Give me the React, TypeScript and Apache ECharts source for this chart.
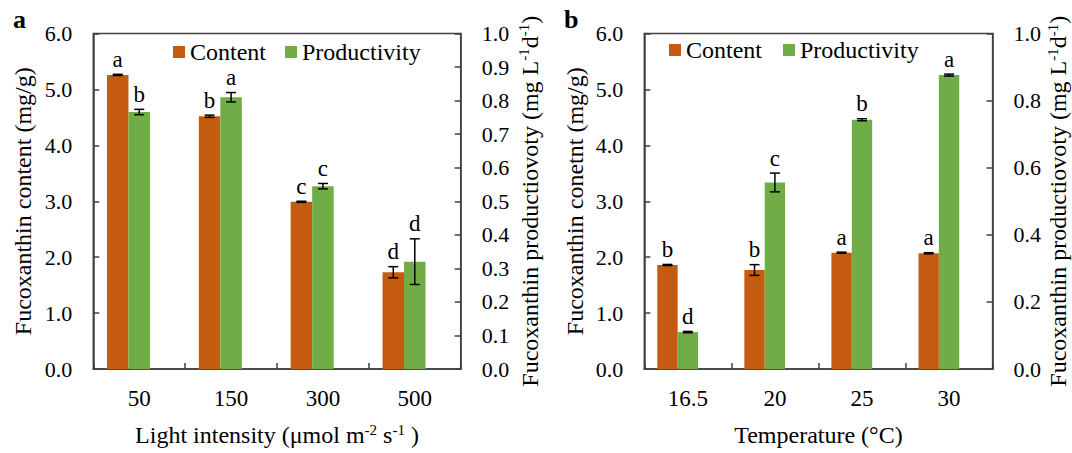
import React, { useEffect, useRef } from "react";
import * as echarts from "echarts";

// ---------- Data ----------
const categoriesA = ["50", "150", "300", "500"];
const contentA = [5.26, 4.52, 2.99, 1.73];
const contentErrA = [0.01, 0.02, 0.01, 0.1];
const productivityA = [0.766, 0.81, 0.545, 0.32];
const productivityErrA = [0.008, 0.014, 0.008, 0.068];
const contentLettersA = ["a", "b", "c", "d"];
const productivityLettersA = ["b", "a", "c", "d"];

const categoriesB = ["16.5", "20", "25", "30"];
const contentB = [1.86, 1.77, 2.08, 2.07];
const contentErrB = [0.01, 0.096, 0.01, 0.01];
const productivityB = [0.11, 0.556, 0.743, 0.876];
const productivityErrB = [0.002, 0.028, 0.003, 0.003];
const contentLettersB = ["b", "b", "a", "a"];
const productivityLettersB = ["d", "c", "b", "a"];

const leftTicks = { min: 0, max: 6, interval: 1 };
const rightTicksA = { min: 0, max: 1, interval: 0.1 };
const rightTicksB = { min: 0, max: 1, interval: 0.2 };

// ---------- Styles ----------
const FONT = "Liberation Serif";
const ORANGE = "#C55A11";
const GREEN = "#70AD47";
const AXIS = "#404040";
const BAR_FRAC = 0.234;

function errRender(offsetFactor: number, letters: string[]) {
  return (params: any, api: any) => {
    const i = api.value(0);
    const v = api.value(1);
    const e = api.value(2);
    const band = api.size([1, 0])[0];
    const off = offsetFactor * band * BAR_FRAC;
    const top = api.coord([i, v + e]);
    const bot = api.coord([i, v - e]);
    const x = top[0] + off;
    const cap = 5;
    const st = { stroke: "#000", lineWidth: 1.5 };
    return {
      type: "group",
      children: [
        { type: "line", shape: { x1: x, y1: top[1], x2: x, y2: bot[1] }, style: st },
        { type: "line", shape: { x1: x - cap, y1: top[1], x2: x + cap, y2: top[1] }, style: st },
        { type: "line", shape: { x1: x - cap, y1: bot[1], x2: x + cap, y2: bot[1] }, style: st },
        {
          type: "text",
          x: x,
          y: top[1] - 5,
          style: {
            text: letters[params.dataIndex],
            fontFamily: FONT,
            fontSize: 23,
            lineHeight: 20,
            fill: "#000",
            align: "center",
            verticalAlign: "bottom",
          },
        },
      ],
    };
  };
}

const richStyles = {
  n: { fontSize: 24, lineHeight: 26, fontFamily: FONT, color: "#000" },
  sup: { fontSize: 15, lineHeight: 15, verticalAlign: "top", fontFamily: FONT, color: "#000" },
};

function xAxisCfg(grid: number, cats: string[], name: string, gap: number) {
  return {
    type: "category",
    gridIndex: grid,
    data: cats,
    axisLine: { show: true, lineStyle: { color: AXIS, width: 1.5 } },
    axisTick: { show: true, inside: true, length: 6, lineStyle: { color: AXIS, width: 1.5 } },
    axisLabel: { fontFamily: FONT, fontSize: 23, color: "#000", margin: 18 },
    name,
    nameLocation: "middle",
    nameGap: gap,
    nameTextStyle: { fontFamily: FONT, fontSize: 24, color: "#000", lineHeight: 26, rich: richStyles },
  };
}

function yAxisCfg(
  grid: number,
  pos: "left" | "right",
  t: { min: number; max: number; interval: number },
  name: string,
  gap: number
) {
  return {
    type: "value",
    gridIndex: grid,
    position: pos,
    min: t.min,
    max: t.max,
    interval: t.interval,
    splitLine: { show: false },
    axisLine: { show: true, lineStyle: { color: AXIS, width: 1.5 } },
    axisTick: { show: true, inside: true, length: 6, lineStyle: { color: AXIS, width: 1.5 } },
    axisLabel: {
      fontFamily: FONT,
      fontSize: 22,
      color: "#000",
      margin: 21,
      formatter: (v: number) => v.toFixed(1),
    },
    name,
    nameLocation: "middle",
    nameGap: gap,
    nameTextStyle: { fontFamily: FONT, fontSize: 24, color: "#000", lineHeight: 26, rich: richStyles },
  };
}

function barSeries(name: string, xi: number, yi: number, data: (number | null)[], color: string) {
  return {
    type: "bar",
    name,
    xAxisIndex: xi,
    yAxisIndex: yi,
    data,
    barWidth: `${BAR_FRAC * 100}%`,
    barGap: "0%",
    itemStyle: { color },
    z: 2,
  };
}

function errSeries(
  xi: number,
  yi: number,
  vals: number[],
  errs: number[],
  letters: string[],
  offsetFactor: number
) {
  return {
    type: "custom",
    xAxisIndex: xi,
    yAxisIndex: yi,
    data: vals.map((v, i) => [i, v, errs[i]]),
    encode: { x: 0, y: 1 },
    renderItem: errRender(offsetFactor, letters),
    clip: false,
    z: 5,
  };
}

function legendCfg(left: number, top: number, gap: number) {
  return {
    data: ["Content", "Productivity"],
    left,
    top,
    padding: 0,
    icon: "rect",
    itemWidth: 12,
    itemHeight: 12,
    itemGap: gap,
    selectedMode: false,
    textStyle: { fontFamily: FONT, fontSize: 24, color: "#000", lineHeight: 20 },
  };
}

export default function App() {
  const ref = useRef<HTMLDivElement>(null);

  useEffect(() => {
    if (!ref.current) return;
    const chart = echarts.init(ref.current, undefined, { renderer: "svg" });
    const option: any = {
      animation: false,
      backgroundColor: "#fff",
      grid: [
        { left: 93.3, top: 33.5, width: 367.4, height: 345.5, show: true, borderColor: AXIS, borderWidth: 1.5, containLabel: false },
        { left: 644.3, top: 33.5, width: 351.7, height: 343.8, show: true, borderColor: AXIS, borderWidth: 1.5, containLabel: false },
      ],
      legend: [legendCfg(173, 40, 19), legendCfg(669, 38, 21)],
      xAxis: [
        xAxisCfg(0, categoriesA, "{n|Light intensity (μmol m}{sup|-2}{n| s}{sup|-1}{n| )}", 53),
        xAxisCfg(1, categoriesB, "{n|Temperature (°C)}", 53),
      ],
      yAxis: [
        yAxisCfg(0, "left", leftTicks, "{n|Fucoxanthin content (mg/g)}", 57),
        yAxisCfg(0, "right", rightTicksA, "{n|Fucoxanthin productiovoty (mg L}{sup|-1}{n|d}{sup|-1}{n|)}", 56),
        yAxisCfg(1, "left", leftTicks, "{n|Fucoxanthin conetnt (mg/g)}", 56),
        yAxisCfg(1, "right", rightTicksB, "{n|Fucoxanthin productiovoty (mg L}{sup|-1}{n|d}{sup|-1}{n|)}", 38),
      ],
      graphic: [
        { type: "text", left: 13, top: 6, style: { text: "a", fontFamily: FONT, fontWeight: "bold", fontSize: 26, fill: "#000" } },
        { type: "text", left: 564, top: 6, style: { text: "b", fontFamily: FONT, fontWeight: "bold", fontSize: 26, fill: "#000" } },
      ],
      series: [
        barSeries("Content", 0, 0, contentA, ORANGE),
        barSeries("Productivity", 0, 1, productivityA, GREEN),
        barSeries("", 0, 1, categoriesA.map(() => null), "transparent"),
        barSeries("Content", 1, 2, contentB, ORANGE),
        barSeries("Productivity", 1, 3, productivityB, GREEN),
        barSeries("", 1, 3, categoriesB.map(() => null), "transparent"),
        errSeries(0, 0, contentA, contentErrA, contentLettersA, -1),
        errSeries(0, 1, productivityA, productivityErrA, productivityLettersA, 0),
        errSeries(1, 2, contentB, contentErrB, contentLettersB, -1),
        errSeries(1, 3, productivityB, productivityErrB, productivityLettersB, 0),
      ],
    };
    chart.setOption(option);
    return () => chart.dispose();
  }, []);

  return (
    <div
      ref={ref}
      style={{ position: "fixed", left: 0, top: 0, width: 1072, height: 453, background: "#fff" }}
    />
  );
}
